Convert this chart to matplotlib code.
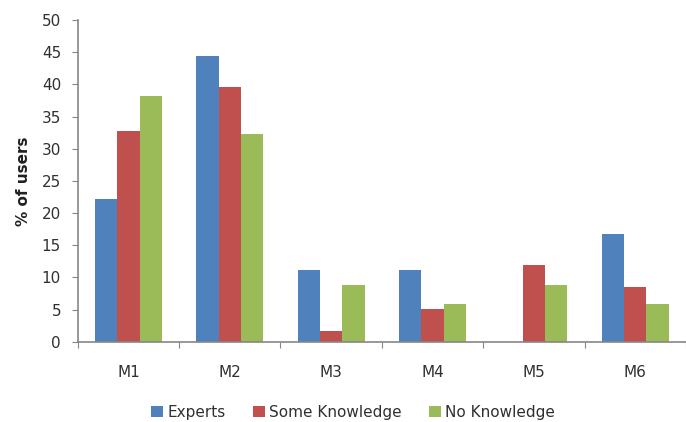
import matplotlib
matplotlib.use("Agg")
import matplotlib.pyplot as plt
import numpy as np

categories = ["M1", "M2", "M3", "M4", "M5", "M6"]
series_names = ["Experts", "Some Knowledge", "No Knowledge"]
experts = [22.2, 44.4, 11.1, 11.1, 0.0, 16.7]
some_knowledge = [32.7, 39.6, 1.7, 5.1, 11.9, 8.5]
no_knowledge = [38.2, 32.3, 8.8, 5.9, 8.8, 5.9]
y_ticks = [0, 5, 10, 15, 20, 25, 30, 35, 40, 45, 50]

colors = ["#4F81BD", "#C0504D", "#9BBB59"]
axis_gray = "#868686"
text_color = "#303030"

fig = plt.figure(figsize=(6.86, 4.22), dpi=100)
ax = fig.add_axes([0.1133, 0.1903, 0.8867, 0.7623])

x = np.arange(len(categories))
width = 0.22
for i, (vals, name, col) in enumerate(zip([experts, some_knowledge, no_knowledge], series_names, colors)):
    ax.bar(x + (i - 1) * width, vals, width, color=col, label=name, linewidth=0)

ax.set_ylim(0, 50)
ax.set_yticks(y_ticks)
ax.set_xlim(-0.5, 5.4)

# category boundaries carry tick marks, centres carry labels
ax.set_xticks(np.arange(len(categories) + 1) - 0.5)
ax.set_xticklabels([])
ax.set_xticks(x, minor=True)
ax.set_xticklabels(categories, minor=True)
ax.tick_params(axis="x", which="minor", length=0, pad=17, labelsize=11, labelcolor=text_color)
ax.tick_params(axis="x", which="major", length=4, color=axis_gray, direction="out")
ax.tick_params(axis="y", length=4, color=axis_gray, labelsize=11, labelcolor=text_color, pad=8)

for s in ["top", "right"]:
    ax.spines[s].set_visible(False)
for s in ["left", "bottom"]:
    ax.spines[s].set_color(axis_gray)
    ax.spines[s].set_linewidth(1.2)

ax.set_ylabel("% of users", fontsize=11, fontweight="bold", color="#202020", labelpad=8)

leg = fig.legend(loc="center", bbox_to_anchor=(353.4 / 686, 1 - 412 / 422), ncol=3,
                 frameon=False, fontsize=11, handlelength=0.75, handleheight=0.75,
                 handletextpad=0.3, columnspacing=1.8)
for t in leg.get_texts():
    t.set_color(text_color)

fig.savefig("out.png", dpi=100)
